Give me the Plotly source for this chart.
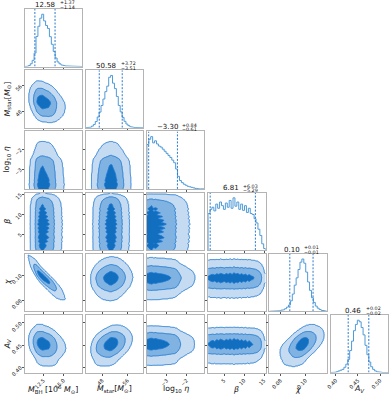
import math
import numpy as np
import plotly.graph_objects as go

# ---------------- data ----------------
axis_labels = [
    "<i>M</i><sub>BH</sub> [10<sup>6</sup> <i>M</i><sub>⊙</sub>]",
    "<i>M</i><sub>star</sub>[<i>M</i><sub>⊙</sub>]",
    "log<sub>10</sub> <i>η</i>",
    "<i>β</i>",
    "<i>χ</i>",
    "<i>A</i><sub><i>V</i></sub>",
]

mbh_range = [10.15, 17.3]
mbh_counts = [0, 4, 18, 52, 118, 255, 575, 770, 925, 1000, 872, 785, 728, 570, 425,
              286, 162, 88, 52, 31, 18, 11, 5, 2, 0, 0, 0, 0, 0, 0]
mbh_ticks = [12.5, 15.0]
mbh_ticktext = ["12.5", "15.0"]
mbh_quant = [11.44, 13.95]
mbh_title = ["12.58", "+1.37", "−1.14"]

mstar_range = [42.8, 60.9]
mstar_counts = [0, 0, 10, 30, 62, 118, 205, 298, 425, 548, 690, 795, 965, 1000, 852,
                748, 598, 425, 302, 198, 122, 70, 40, 20, 10, 5, 0, 0, 0, 0]
mstar_ticks = [48, 56]
mstar_ticktext = ["48", "56"]
mstar_quant = [47.07, 54.30]
mstar_title = ["50.58", "+3.72", "−3.51"]

eta_range = [-4.0, -1.1]
eta_counts = [850, 950, 1000, 880, 920, 860, 820, 800, 760, 720, 680, 640, 600, 550, 500,
              380, 240, 160, 120, 90, 70, 50, 40, 30, 20, 10, 5, 0, 0, 0]
eta_ticks = [-3, -2]
eta_ticktext = ["−3", "−2"]
eta_quant = [-3.91, -2.46]
eta_title = ["−3.30", "+0.84", "−0.61"]

beta_range = [1.0, 15.4]
beta_counts = [700, 780, 820, 750, 880, 800, 920, 850, 780, 900, 820, 950, 800, 1000, 840,
               920, 780, 880, 760, 850, 720, 800, 700, 680, 600, 520, 400, 280, 120, 30]
beta_ticks = [5, 10, 15]
beta_ticktext = ["5", "10", "15"]
beta_quant = [1.52, 12.84]
beta_title = ["6.81", "+6.03", "−5.29"]

chi_range = [0.071, 0.117]
chi_counts = [0, 0, 0, 3, 5, 10, 20, 30, 50, 80, 120, 200, 330, 500, 640,
              800, 940, 1000, 920, 750, 560, 400, 260, 170, 100, 60, 35, 20, 10, 5]
chi_ticks = [0.08, 0.10]
chi_ticktext = ["0.08", "0.10"]
chi_quant = [0.0874, 0.1060]
chi_title = ["0.10", "+0.01", "−0.01"]

av_range = [0.388, 0.518]
av_counts = [0, 0, 5, 15, 30, 45, 60, 100, 160, 250, 420, 600, 800, 920, 1000,
             970, 860, 720, 520, 340, 200, 110, 60, 30, 15, 8, 3, 0, 0, 0]
av_ticks = [0.40, 0.45, 0.50]
av_ticktext = ["0.40", "0.45", "0.50"]
av_quant = [0.428, 0.4746]
av_title = ["0.46", "+0.02", "−0.02"]

# estimated correlation of each pair (row parameter vs column parameter)
corr = [
    [1.0, 0.0, 0.0, 0.0, 0.0, 0.0],
    [-0.25, 1.0, 0.0, 0.0, 0.0, 0.0],
    [0.0, 0.0, 1.0, 0.0, 0.0, 0.0],
    [0.0, 0.0, 0.0, 1.0, 0.0, 0.0],
    [-0.9, 0.05, 0.0, 0.0, 1.0, 0.0],
    [-0.2, 0.3, 0.0, 0.0, 0.5, 1.0],
]

# probability mass enclosed by the contour levels
levels_mass = [0.393, 0.865, 0.989]

# ---------------- build ----------------
params = [
    dict(rng=mbh_range, counts=mbh_counts, ticks=mbh_ticks, tt=mbh_ticktext, q=mbh_quant, title=mbh_title),
    dict(rng=mstar_range, counts=mstar_counts, ticks=mstar_ticks, tt=mstar_ticktext, q=mstar_quant, title=mstar_title),
    dict(rng=eta_range, counts=eta_counts, ticks=eta_ticks, tt=eta_ticktext, q=eta_quant, title=eta_title),
    dict(rng=beta_range, counts=beta_counts, ticks=beta_ticks, tt=beta_ticktext, q=beta_quant, title=beta_title),
    dict(rng=chi_range, counts=chi_counts, ticks=chi_ticks, tt=chi_ticktext, q=chi_quant, title=chi_title),
    dict(rng=av_range, counts=av_counts, ticks=av_ticks, tt=av_ticktext, q=av_quant, title=av_title),
]
N = len(params)

W, H = 389, 400
LEFT0, TOP0, STEP, SIZE = 24.5, 9.0, 61.2, 57.5

HIST_C = "#4f9ad8"
QUANT_C = "#2b7bcc"
LINE_C = "#1e78d2"
FILL_LIGHT = "#c4dbf1"
FILL_MED = "#80b3e2"
FILL_DARK = "#126fc0"
FRAME_C = "#b4b4b4"
FONT = "DejaVu Sans"

zt = np.linspace(-6, 6, 2401)
Pt = 0.5 * (1 + np.vectorize(math.erf)(zt / math.sqrt(2)))


def marginal(p, grid):
    lo, hi = p["rng"]
    c = np.asarray(p["counts"], float)
    n = len(c)
    w = (hi - lo) / n
    centers = lo + w * (np.arange(n) + 0.5)
    f = np.interp(grid, centers, c, left=c[0], right=c[-1])
    cdf = np.concatenate([[0], np.cumsum(0.5 * (f[1:] + f[:-1]))])
    cdf = cdf / cdf[-1]
    u = np.clip(cdf, 1e-7, 1 - 1e-7)
    z = np.interp(u, Pt, zt)
    return f, z


fig = go.Figure()
layout = dict()
annotations = []

k = 0
for r in range(N):
    for c in range(r + 1):
        k += 1
        xname = "xaxis" if k == 1 else f"xaxis{k}"
        yname = "yaxis" if k == 1 else f"yaxis{k}"
        xref = "x" if k == 1 else f"x{k}"
        yref = "y" if k == 1 else f"y{k}"
        x0 = (LEFT0 + STEP * c) / W
        x1 = (LEFT0 + STEP * c + SIZE) / W
        ytop = 1 - (TOP0 + STEP * r) / H
        ybot = 1 - (TOP0 + STEP * r + SIZE) / H
        px = params[c]
        bottom = (r == N - 1)
        xa = dict(domain=[x0, x1], anchor=yref, range=px["rng"], showgrid=False, zeroline=False,
                  showline=True, mirror=True, linecolor=FRAME_C, linewidth=1, automargin=False,
                  ticks="outside", ticklen=2, tickwidth=0.8, tickcolor="#555",
                  tickvals=px["ticks"], ticktext=px["tt"], showticklabels=bottom,
                  tickangle=-45, tickfont=dict(size=5.2, color="#222", family=FONT))
        if r == c:
            cnt = np.asarray(px["counts"], float)
            lo, hi = px["rng"]
            edges = np.linspace(lo, hi, len(cnt) + 1)
            xs = np.repeat(edges, 2)
            ys = np.concatenate([[0], np.repeat(cnt, 2), [0]])
            top = 1.1 * cnt.max()
            fig.add_trace(go.Scatter(x=xs, y=ys, mode="lines", line=dict(color=HIST_C, width=1),
                                     xaxis=xref, yaxis=yref, hoverinfo="skip"))
            for qv in px["q"]:
                fig.add_trace(go.Scatter(x=[qv, qv], y=[0, top], mode="lines",
                                         line=dict(color=QUANT_C, width=1, dash="2px,1.5px"),
                                         xaxis=xref, yaxis=yref, hoverinfo="skip"))
            ya = dict(domain=[ybot, ytop], anchor=xref, range=[0, top], showgrid=False, zeroline=False,
                      showline=True, mirror=True, linecolor=FRAME_C, linewidth=1, automargin=False,
                      showticklabels=False, ticks="")
            # title
            cx = LEFT0 + STEP * c + SIZE / 2
            ty = TOP0 + STEP * r
            t = px["title"]
            annotations.append(dict(x=(cx + 4) / W, y=1 - (ty - 4.3) / H, xref="paper", yref="paper",
                                    text=t[0], showarrow=False, xanchor="right", yanchor="middle",
                                    font=dict(size=7, color="#111", family=FONT)))
            annotations.append(dict(x=(cx + 4.3) / W, y=1 - (ty - 6.4) / H, xref="paper", yref="paper",
                                    text=t[1], showarrow=False, xanchor="left", yanchor="middle",
                                    font=dict(size=4.8, color="#111", family=FONT)))
            annotations.append(dict(x=(cx + 4.3) / W, y=1 - (ty - 1.8) / H, xref="paper", yref="paper",
                                    text=t[2], showarrow=False, xanchor="left", yanchor="middle",
                                    font=dict(size=4.8, color="#111", family=FONT)))
        else:
            py = params[r]
            gx = np.linspace(px["rng"][0], px["rng"][1], 80)
            gy = np.linspace(py["rng"][0], py["rng"][1], 80)
            fx, zx = marginal(px, gx)
            fy, zy = marginal(py, gy)
            rho = corr[r][c]
            ZX, ZY = np.meshgrid(zx, zy)
            cop = np.exp(-(rho ** 2 * (ZX ** 2 + ZY ** 2) - 2 * rho * ZX * ZY) / (2 * (1 - rho ** 2)))
            D = fy[:, None] * fx[None, :] * cop
            flat = D.ravel()
            order = np.argsort(-flat)
            cs = np.cumsum(flat[order]) / flat.sum()
            M = np.empty_like(cs)
            M[order] = cs
            M = M.reshape(D.shape)
            V = np.interp(M, [0] + levels_mass + [1.0001], [4, 3, 2, 1, 0])
            fig.add_trace(go.Contour(
                x=gx, y=gy, z=V, xaxis=xref, yaxis=yref, autocontour=False,
                contours=dict(start=1, end=3, size=1, coloring="fill", showlines=True),
                colorscale=[[0, "rgba(255,255,255,0)"], [1 / 3, FILL_LIGHT], [2 / 3, FILL_MED], [1, FILL_DARK]],
                line=dict(color=LINE_C, width=0.9, smoothing=1), showscale=False, hoverinfo="skip"))
            ya = dict(domain=[ybot, ytop], anchor=xref, range=py["rng"], showgrid=False, zeroline=False,
                      showline=True, mirror=True, linecolor=FRAME_C, linewidth=1, automargin=False,
                      ticks="outside", ticklen=2, tickwidth=0.8, tickcolor="#555",
                      tickvals=py["ticks"], ticktext=py["tt"], showticklabels=(c == 0),
                      tickangle=-45, tickfont=dict(size=5.2, color="#222", family=FONT))
        layout[xname] = xa
        layout[yname] = ya

# axis labels
for i in range(N):
    cx = LEFT0 + STEP * i + SIZE / 2
    annotations.append(dict(x=cx / W, y=1 - 389 / H, xref="paper", yref="paper", text=axis_labels[i],
                            showarrow=False, xanchor="center", yanchor="middle",
                            font=dict(size=7.8, color="#111", family=FONT)))
    if i > 0:
        cy = TOP0 + STEP * i + SIZE / 2
        annotations.append(dict(x=7.5 / W, y=1 - cy / H, xref="paper", yref="paper", text=axis_labels[i],
                                showarrow=False, xanchor="center", yanchor="middle", textangle=-90,
                                font=dict(size=7.8, color="#111", family=FONT)))

fig.update_layout(width=W, height=H, margin=dict(l=0, r=0, t=0, b=0, autoexpand=False), showlegend=False,
                  paper_bgcolor="white", plot_bgcolor="white", annotations=annotations, **layout)

fig.write_html("out.html", config={"displayModeBar": False},
               post_script="document.body.style.margin='0px';document.body.style.overflow='hidden';")
